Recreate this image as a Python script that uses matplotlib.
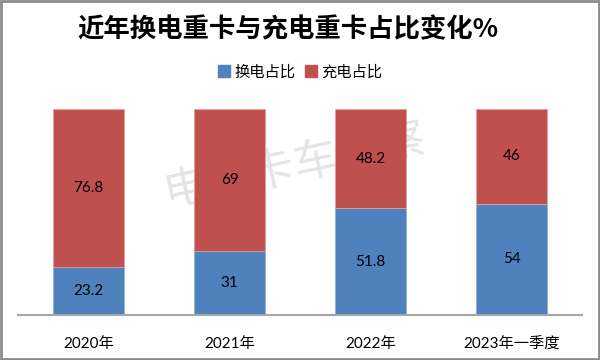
import matplotlib.pyplot as plt
from matplotlib.patches import Rectangle, Patch

categories = ["2020年", "2021年", "2022年", "2023年一季度"]
swap_share = [23.2, 31, 51.8, 54]
charge_share = [76.8, 69, 48.2, 46]
series_names = ["换电占比", "充电占比"]
title = "近年换电重卡与充电重卡占比变化%"

blue = "#4F81BD"
red = "#C0504D"
cjk = ["Noto Sans CJK SC", "DejaVu Sans"]
num = ["Lato", "Noto Sans CJK SC", "DejaVu Sans"]

fig = plt.figure(figsize=(6, 3.6), dpi=100)
ax = fig.add_axes([0.03, 0.125, 0.94, 0.572])
ax.patch.set_visible(False)

x = list(range(len(categories)))
b1 = ax.bar(x, swap_share, width=0.51, color=blue, edgecolor="#8fb0d8", linewidth=0.6)
b2 = ax.bar(x, charge_share, width=0.51, bottom=swap_share, color=red,
            edgecolor="#e0a09e", linewidth=0.6)

for rects, vals, bots in [(b1, swap_share, [0] * 4), (b2, charge_share, swap_share)]:
    for r, v, b in zip(rects, vals, bots):
        ax.text(r.get_x() + r.get_width() / 2, b + v / 2, f"{v:g}",
                ha="center", va="center", fontsize=11, family=num, color="black")

ax.set_xlim(-0.5, 3.5)
ax.set_ylim(0, 100)
ax.set_xticks(x)
ax.set_xticklabels(categories, family=num, fontsize=11)
ax.tick_params(axis="x", length=0, pad=16)
ax.set_yticks([])
for s in ["top", "right", "left"]:
    ax.spines[s].set_visible(False)
ax.spines["bottom"].set_color("#a6a6a6")
ax.spines["bottom"].set_linewidth(1.5)

fig.text(0.48, 0.918, title, ha="center", va="center", fontsize=19,
         fontweight="bold", family=cjk)

handles = [Patch(color=blue), Patch(color=red)]
fig.legend(handles, series_names, loc="center", bbox_to_anchor=(0.5, 0.8),
           ncol=2, frameon=False, prop={"family": cjk, "size": 11},
           handlelength=0.8, handleheight=0.8, handletextpad=0.3, columnspacing=0.6)

# watermark sits behind the bars
fig.text(0.49, 0.54, "电动卡车观察", ha="center", va="center", fontsize=32,
         rotation=12, family=cjk, color="#e4e4e4", zorder=-1)

fig.patches.append(Rectangle((0.002, 0.003), 0.996, 0.994, transform=fig.transFigure,
                             fill=False, edgecolor="#8c8c8c", linewidth=2))

fig.savefig("out.png", dpi=100)
